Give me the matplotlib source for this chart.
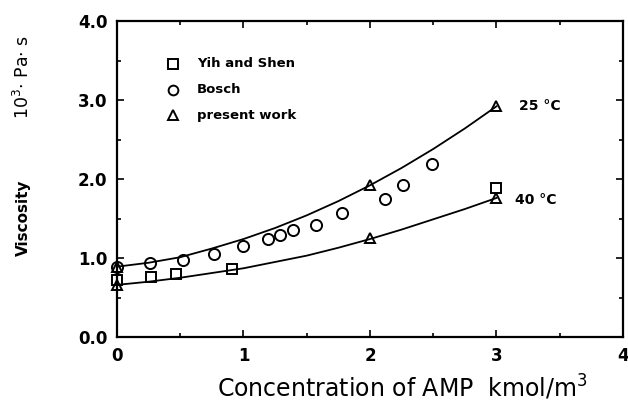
import numpy as np
import matplotlib.pyplot as plt
from matplotlib.ticker import MultipleLocator

# data
yih_x = [0.0, 0.27, 0.47, 0.91, 3.0]
yih_y = [0.72, 0.76, 0.80, 0.86, 1.89]

bosch_x = [0.0, 0.26, 0.52, 0.77, 1.0, 1.19, 1.29, 1.39, 1.57, 1.78, 2.12, 2.26, 2.49]
bosch_y = [0.89, 0.94, 0.975, 1.05, 1.15, 1.24, 1.29, 1.35, 1.42, 1.57, 1.75, 1.93, 2.19]

present_x = [0.0, 2.0, 3.0, 0.0, 2.0, 3.0]
present_y = [0.89, 1.93, 2.92, 0.66, 1.25, 1.76]

curve_x = [0.0, 0.25, 0.5, 0.75, 1.0, 1.25, 1.5, 1.75, 2.0, 2.25, 2.5, 2.75, 3.0]
curve_25 = [0.89, 0.94, 1.01, 1.12, 1.24, 1.38, 1.54, 1.72, 1.92, 2.14, 2.38, 2.64, 2.92]
curve_40 = [0.66, 0.70, 0.75, 0.81, 0.87, 0.95, 1.03, 1.13, 1.24, 1.36, 1.49, 1.62, 1.76]

fig = plt.figure(figsize=(6.28, 4.01), dpi=100)
ax = fig.add_axes([0.1863, 0.1596, 0.8057, 0.788])

ax.plot(curve_x, curve_25, color='black', lw=1.3)
ax.plot(curve_x, curve_40, color='black', lw=1.3)

mk = dict(linestyle='none', mfc='none', mec='black', mew=1.4, clip_on=False)
ax.plot(yih_x, yih_y, marker='s', ms=7.5, **mk)
ax.plot(bosch_x, bosch_y, marker='o', ms=8, **mk)
ax.plot(present_x, present_y, marker='^', ms=7.5, **mk)

ax.set_xlim(0, 4)
ax.set_ylim(0, 4)
ax.xaxis.set_major_locator(MultipleLocator(1))
ax.xaxis.set_minor_locator(MultipleLocator(0.5))
ax.yaxis.set_major_locator(MultipleLocator(1))
ax.yaxis.set_minor_locator(MultipleLocator(0.5))
ax.yaxis.set_major_formatter(plt.FormatStrFormatter('%.1f'))
ax.tick_params(which='both', direction='in', top=True, right=True, width=1.2)
ax.tick_params(which='major', length=5, labelsize=12, pad=7)
ax.tick_params(which='minor', length=3)
for lab in ax.get_xticklabels() + ax.get_yticklabels():
    lab.set_fontweight('bold')
for s in ax.spines.values():
    s.set_linewidth(1.6)

# legend drawn by hand like the original
leg_labels = ['Yih and Shen', 'Bosch', 'present work']
leg_markers = ['s', 'o', '^']
for i, (lab, m) in enumerate(zip(leg_labels, leg_markers)):
    yy = 0.865 - i * 0.082
    ax.plot([0.111], [yy], marker=m, ms=7, transform=ax.transAxes, **mk)
    ax.text(0.158, yy, lab, transform=ax.transAxes, fontsize=9.5,
            fontweight='bold', va='center', ha='left')

ax.text(3.18, 2.92, '25 °C', fontsize=10, fontweight='bold', va='center')
ax.text(3.15, 1.73, '40 °C', fontsize=10, fontweight='bold', va='center')

fig.text(0.640, 0.033, 'Concentration of AMP  kmol/m$^3$', fontsize=17,
         ha='center', va='center')
fig.text(0.037, 0.456, 'Viscosity', rotation=90, fontsize=11,
         fontweight='bold', ha='center', va='center')
fig.text(0.037, 0.808, '10$^3$$\\cdot$ Pa$\\cdot$ s', rotation=90, fontsize=12.5,
         ha='center', va='center')

fig.savefig('out.png', dpi=100)
